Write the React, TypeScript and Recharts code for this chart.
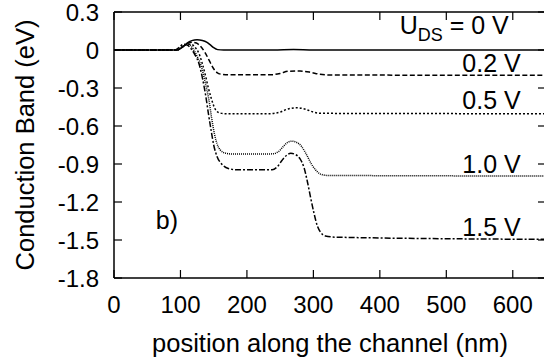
import { Label, Line, LineChart, ReferenceDot, XAxis, YAxis } from "recharts";

const FONT = '"Liberation Sans", Arial, Helvetica, sans-serif';

// position along the channel (nm) and conduction band (eV), one pair per U_DS
const pos0V = [0, 95, 100, 105, 110, 117, 125, 133, 140, 145, 150, 156, 165, 240, 270, 300, 650];
const band0V = [0, 0, 0.012, 0.03, 0.055, 0.074, 0.08, 0.075, 0.06, 0.04, 0.018, 0.003, 0, 0, 0.004, 0, 0];

const pos02V = [0, 95, 102, 110, 117, 124, 130, 137, 143, 149, 155, 162, 172, 235, 250, 262, 280, 295, 310, 325, 650];
const band02V = [0, 0, 0.02, 0.05, 0.062, 0.055, 0.03, -0.02, -0.08, -0.14, -0.178, -0.192, -0.196, -0.196, -0.185, -0.168, -0.166, -0.175, -0.192, -0.197, -0.2];

const pos05V = [0, 95, 102, 110, 116, 122, 128, 133, 138, 142, 146, 150, 154, 160, 170, 235, 250, 262, 275, 288, 300, 312, 650];
const band05V = [0, 0, 0.02, 0.045, 0.045, 0.02, -0.03, -0.11, -0.21, -0.3, -0.375, -0.44, -0.48, -0.498, -0.503, -0.503, -0.49, -0.465, -0.456, -0.468, -0.49, -0.5, -0.503];

const pos10V = [0, 95, 102, 108, 114, 120, 126, 132, 137, 143, 147, 151, 155, 160, 168, 180, 238, 248, 256, 262, 268, 275, 282, 290, 297, 303, 310, 320, 650];
const band10V = [0, 0, 0.025, 0.045, 0.04, 0, -0.06, -0.14, -0.25, -0.4, -0.54, -0.66, -0.74, -0.79, -0.815, -0.822, -0.82, -0.8, -0.755, -0.727, -0.72, -0.73, -0.76, -0.83, -0.9, -0.945, -0.978, -0.99, -0.995];

const pos15V = [0, 92, 98, 104, 110, 116, 122, 128, 133, 138, 142, 146, 150, 155, 162, 172, 185, 238, 246, 253, 260, 266, 273, 280, 286, 291, 296, 301, 306, 311, 318, 335, 650];
const band15V = [0, 0, 0.02, 0.045, 0.04, 0.01, -0.04, -0.11, -0.22, -0.36, -0.5, -0.63, -0.75, -0.84, -0.9, -0.935, -0.945, -0.945, -0.92, -0.87, -0.83, -0.815, -0.825, -0.86, -0.93, -1.04, -1.17, -1.29, -1.39, -1.44, -1.468, -1.478, -1.495];

const xTicks = [0, 100, 200, 300, 400, 500, 600];
const yTicks = [0.3, 0, -0.3, -0.6, -0.9, -1.2, -1.5, -1.8];
const voltageLabels = ["0 V", "0.2 V", "0.5 V", "1.0 V", "1.5 V"];

const toPoints = (xs: number[], ys: number[]) => xs.map((x, i) => ({ x, y: ys[i] }));

const series = [
  { name: voltageLabels[0], data: toPoints(pos0V, band0V), dash: undefined },
  { name: voltageLabels[1], data: toPoints(pos02V, band02V), dash: "5 2.5" },
  { name: voltageLabels[2], data: toPoints(pos05V, band05V), dash: "2 2" },
  { name: voltageLabels[3], data: toPoints(pos10V, band10V), dash: "1 1" },
  { name: voltageLabels[4], data: toPoints(pos15V, band15V), dash: "6 2 2 2" },
];

// where the curve labels sit (data units: right edge, baseline)
const labelSpots = [
  { x: 594, y: 0.13 },
  { x: 612, y: -0.177 },
  { x: 612, y: -0.469 },
  { x: 612, y: -0.974 },
  { x: 612, y: -1.471 },
];

const BottomTick = ({ x, y, payload }: any) => (
  <g>
    <line x1={x} x2={x} y1={y} y2={y - 8} stroke="#000" strokeWidth={1.2} />
    <text x={x} y={y + 35} textAnchor="middle" fontSize={24} fontFamily={FONT} fill="#000">
      {payload.value}
    </text>
  </g>
);

const LeftTick = ({ x, y, payload }: any) => (
  <g>
    <line x1={x} x2={x + 8} y1={y} y2={y} stroke="#000" strokeWidth={1.2} />
    <text x={x - 15} y={y + 8.5} textAnchor="end" fontSize={24} fontFamily={FONT} fill="#000">
      {String(payload.value)}
    </text>
  </g>
);

const TopTick = ({ x, y }: any) => <line x1={x} x2={x} y1={y} y2={y + 8} stroke="#000" strokeWidth={1.2} />;
const RightTick = ({ x, y }: any) => <line x1={x} x2={x - 8} y1={y} y2={y} stroke="#000" strokeWidth={1.2} />;

const curveLabel = (i: number) => (props: any) => {
  const { x, y } = props.viewBox;
  if (i === 0) {
    return (
      <text x={x} y={y} textAnchor="end" fontSize={25} fontFamily={FONT} fill="#000">
        <tspan>U</tspan>
        <tspan fontSize={18} dy={7}>DS</tspan>
        <tspan dy={-7}>{" = " + voltageLabels[0]}</tspan>
      </text>
    );
  }
  return (
    <text x={x} y={y} textAnchor="end" fontSize={25} fontFamily={FONT} fill="#000">
      {voltageLabels[i]}
    </text>
  );
};

export default function App() {
  return (
    <div style={{ position: "absolute", left: 0, top: 0, width: 544, height: 360, overflow: "hidden", background: "#fff" }}>
      <LineChart width={560} height={360} margin={{ top: 11, right: 13, bottom: 0, left: 0 }}>
        <XAxis
          dataKey="x"
          type="number"
          domain={[0, 650]}
          ticks={xTicks}
          interval={0}
          height={82}
          tickSize={0}
          tickMargin={0}
          tickLine={false}
          tick={BottomTick}
          axisLine={{ stroke: "#000", strokeWidth: 1.5 }}
          allowDataOverflow
        >
          <Label
            content={(p: any) => (
              <text
                x={p.viewBox.x + p.viewBox.width / 2}
                y={p.viewBox.y + 73.5}
                textAnchor="middle"
                fontSize={25.5}
                fontFamily={FONT}
                fill="#000"
              >
                position along the channel (nm)
              </text>
            )}
          />
        </XAxis>
        <XAxis
          xAxisId="top"
          orientation="top"
          dataKey="x"
          type="number"
          domain={[0, 650]}
          ticks={xTicks}
          interval={0}
          height={1}
          tickSize={0}
          tickMargin={0}
          tickLine={false}
          tick={TopTick}
          axisLine={{ stroke: "#000", strokeWidth: 1.5 }}
          allowDataOverflow
        />
        <YAxis
          type="number"
          domain={[-1.8, 0.3]}
          ticks={yTicks}
          interval={0}
          width={114}
          tickSize={0}
          tickMargin={0}
          tickLine={false}
          tick={LeftTick}
          axisLine={{ stroke: "#000", strokeWidth: 1.5 }}
          allowDataOverflow
        >
          <Label
            content={(p: any) => {
              const cy = p.viewBox.y + p.viewBox.height / 2;
              return (
                <text
                  x={34}
                  y={cy}
                  transform={`rotate(-90 34 ${cy})`}
                  textAnchor="middle"
                  fontSize={25.5}
                  fontFamily={FONT}
                  fill="#000"
                >
                  Conduction Band (eV)
                </text>
              );
            }}
          />
        </YAxis>
        <YAxis
          yAxisId="right"
          orientation="right"
          type="number"
          domain={[-1.8, 0.3]}
          ticks={yTicks}
          interval={0}
          width={1}
          tickSize={0}
          tickMargin={0}
          tickLine={false}
          tick={RightTick}
          axisLine={{ stroke: "#000", strokeWidth: 1.5 }}
          allowDataOverflow
        />
        {/* invisible copy so the mirrored top/right axes get drawn */}
        <Line
          xAxisId="top"
          yAxisId="right"
          data={series[0].data}
          dataKey="y"
          stroke="none"
          dot={false}
          activeDot={false}
          isAnimationActive={false}
        />
        {series.map(s => (
          <Line
            key={s.name}
            data={s.data}
            dataKey="y"
            type="monotone"
            stroke="#000"
            strokeWidth={1.5}
            strokeDasharray={s.dash}
            dot={false}
            activeDot={false}
            isAnimationActive={false}
          />
        ))}
        {labelSpots.map((spot, i) => (
          <ReferenceDot
            key={"lbl" + i}
            x={spot.x}
            y={spot.y}
            r={0}
            fill="none"
            stroke="none"
            label={curveLabel(i)}
          />
        ))}
        <ReferenceDot
          x={63}
          y={-1.416}
          r={0}
          fill="none"
          stroke="none"
          label={(p: any) => (
            <text x={p.viewBox.x} y={p.viewBox.y} fontSize={25} fontFamily={FONT} fill="#000">
              b)
            </text>
          )}
        />
      </LineChart>
    </div>
  );
}
